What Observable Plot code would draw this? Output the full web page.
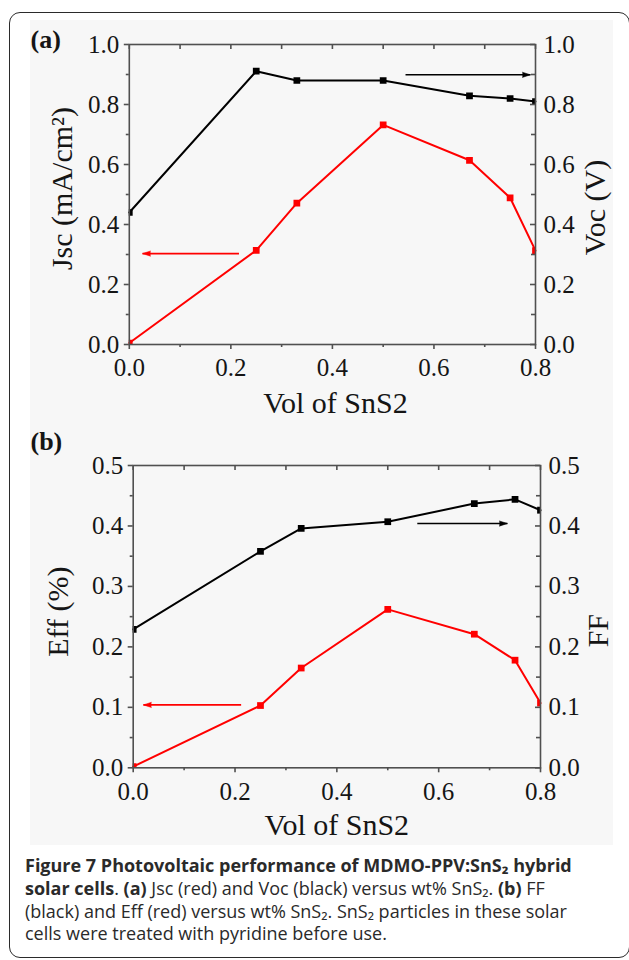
<!DOCTYPE html>
<html>
<head>
<meta charset="utf-8">
<script src="https://cdn.jsdelivr.net/npm/d3@7"></script>
<script src="https://cdn.jsdelivr.net/npm/@observablehq/plot@0.6"></script>
<style>
  html, body { margin: 0; padding: 0; background: #fff; }
  #page { position: relative; width: 629px; height: 960px; overflow: hidden; background: #fff; }
  #box { position: absolute; left: 9px; top: 12px; width: 620.5px; height: 946px; box-sizing: border-box;
         border: 1.6px solid #2b2b2b; border-radius: 11px; }
  #bg { position: absolute; left: 30px; top: 20px; width: 583px; height: 825px; background: #f7f7f7; }
  .panel { position: absolute; left: 0; }
  #cap { position: absolute; left: 25px; top: 854px; font-family: 'Open Sans', 'Noto Sans', sans-serif; font-size: 18px;
         line-height: 22.8px; color: #2a2a2a; white-space: nowrap; }
  #cap b { font-weight: 700; }
</style>
</head>
<body>
<div id="page">
  <div id="bg"></div>
  <div id="box"></div>
  <div id="pa" class="panel" style="top:0px"></div>
  <div id="pb" class="panel" style="top:420px"></div>
  <div id="cap">
    <div><b>Figure 7 Photovoltaic performance of MDMO-PPV:SnS₂ hybrid</b></div>
    <div><b>solar cells</b>. <b>(a)</b> Jsc (red) and Voc (black) versus wt% SnS₂. <b>(b)</b> FF</div>
    <div>(black) and Eff (red) versus wt% SnS₂. SnS₂ particles in these solar</div>
    <div>cells were treated with pyridine before use.</div>
  </div>
</div>
<script>
// ---- data ----
const volSnS2 = [0, 0.25, 0.33, 0.5, 0.67, 0.75, 0.8];
const jsc = [0.005, 0.314, 0.471, 0.732, 0.614, 0.489, 0.313];   // red, panel (a)
const voc = [0.44, 0.911, 0.88, 0.88, 0.829, 0.82, 0.81];        // black, panel (a)
const eff = [0.002, 0.103, 0.165, 0.262, 0.221, 0.178, 0.107];   // red, panel (b)
const ff  = [0.229, 0.358, 0.396, 0.407, 0.437, 0.444, 0.426];   // black, panel (b)

const xMajorTicks = [0, 0.2, 0.4, 0.6, 0.8];
const xMinorTicks = [0.1, 0.3, 0.5, 0.7];
const yMajorTicksA = [0, 0.2, 0.4, 0.6, 0.8, 1.0];
const yMinorTicksA = [0.1, 0.3, 0.5, 0.7, 0.9];
const yMajorTicksB = [0, 0.1, 0.2, 0.3, 0.4, 0.5];
const yMinorTicksB = [0.05, 0.15, 0.25, 0.35, 0.45];

// arrows: from x1 to x2 at height y
const arrowsA = [
  {x1: 0.216, x2: 0.026, y: 0.303, c: "red"},
  {x1: 0.544, x2: 0.79, y: 0.899, c: "black"}
];
const arrowsB = [
  {x1: 0.212, x2: 0.02, y: 0.104, c: "red"},
  {x1: 0.558, x2: 0.735, y: 0.404, c: "black"}
];

const labelsA = {tag: "(a)", left: "Jsc (mA/cm²)", right: "Voc (V)", bottom: "Vol of SnS2"};
const labelsB = {tag: "(b)", left: "Eff (%)", right: "FF", bottom: "Vol of SnS2"};

// ---- drawing ----
const RED = "#ff0000", BLACK = "#000000", AXIS = "#505050", TXT = "#151515";
const W = 629, H = 420;
const fmt = d3.format(".1f");
const serif = "'Liberation Serif', 'Times New Roman', serif";
const TICKFS = 25;

function makePanel(cfg) {
  const innerW = W - cfg.ml - cfg.mr;
  const innerH = H - cfg.mt - cfg.mb;
  const red = volSnS2.map((x, i) => ({x, y: cfg.red[i]}));
  const black = volSnS2.map((x, i) => ({x, y: cfg.black[i]}));
  const xAll = xMajorTicks.concat(xMinorTicks);
  const colour = d => d.c === "red" ? RED : BLACK;
  return Plot.plot({
    width: W, height: H,
    marginLeft: cfg.ml, marginRight: cfg.mr, marginTop: cfg.mt, marginBottom: cfg.mb,
    x: {domain: [0, 0.8], label: null},
    y: {domain: cfg.yDomain, label: null},
    style: {background: "transparent", fontFamily: serif, fontSize: TICKFS + "px", color: TXT, overflow: "visible"},
    marks: [
      // series
      Plot.line(black, {x: "x", y: "y", stroke: BLACK, strokeWidth: 2}),
      Plot.line(red, {x: "x", y: "y", stroke: RED, strokeWidth: 2}),
      Plot.dot(black, {x: "x", y: "y", symbol: "square", r: 3.8, fill: BLACK, stroke: "none", clip: true}),
      Plot.dot(red, {x: "x", y: "y", symbol: "square", r: 3.8, fill: RED, stroke: "none", clip: true}),
      // arrows
      Plot.link(cfg.arrows, {x1: "x1", x2: "x2", y1: "y", y2: "y", stroke: colour, strokeWidth: 1.6}),
      Plot.vector(cfg.arrows, {x: "x2", y: "y", rotate: d => d.x2 > d.x1 ? 90 : -90, length: 8, r: 2.6,
        shape: "spike", anchor: "end", fill: colour, stroke: colour, strokeWidth: 0.5}),
      // frame
      Plot.frame({stroke: AXIS, strokeWidth: 1.6}),
      // bottom axis (outward ticks)
      Plot.axisX(xMajorTicks, {anchor: "bottom", tickSize: 5, tickPadding: 9, tickFormat: fmt,
        stroke: AXIS, strokeWidth: 1.6, fill: TXT, fontSize: TICKFS, label: null}),
      Plot.axisX(xMinorTicks, {anchor: "bottom", tickSize: 3, tickFormat: () => "",
        stroke: AXIS, strokeWidth: 1.6, label: null}),
      // top ticks (pointing down)
      Plot.gridX(xAll, {stroke: AXIS, strokeOpacity: 1, strokeWidth: 1.6, insetBottom: innerH - 5}),
      // left axis (outward ticks)
      Plot.axisY(cfg.yMajor, {anchor: "left", tickSize: 5, tickPadding: 5, tickFormat: fmt,
        stroke: AXIS, strokeWidth: 1.6, fill: TXT, fontSize: TICKFS, label: null}),
      Plot.axisY(cfg.yMinor, {anchor: "left", tickSize: 3, tickFormat: () => "",
        stroke: AXIS, strokeWidth: 1.6, label: null}),
      // right axis: labels outside, ticks inward
      Plot.axisY(cfg.yMajor, {anchor: "right", tickSize: 0, tickPadding: 8, tickFormat: fmt,
        fill: TXT, fontSize: TICKFS, label: null}),
      Plot.gridY(cfg.yMajor, {stroke: AXIS, strokeOpacity: 1, strokeWidth: 1.6, insetLeft: innerW - 5}),
      Plot.gridY(cfg.yMinor, {stroke: AXIS, strokeOpacity: 1, strokeWidth: 1.6, insetLeft: innerW - 4}),
      // titles
      Plot.text([cfg.labels.left], {frameAnchor: "left", rotate: -90, dx: cfg.leftDx, dy: cfg.leftDy,
        fontSize: 30, fill: TXT, fontFamily: serif, textAnchor: "middle", lineAnchor: "middle"}),
      Plot.text([cfg.labels.right], {frameAnchor: "right", rotate: -90, dx: cfg.rightDx, dy: cfg.rightDy,
        fontSize: 30, fill: TXT, fontFamily: serif, textAnchor: "middle", lineAnchor: "middle"}),
      Plot.text([cfg.labels.bottom], {frameAnchor: "bottom", dx: cfg.botDx, dy: cfg.botDy,
        fontSize: 30, fill: TXT, fontFamily: serif, textAnchor: "middle", lineAnchor: "middle"}),
      Plot.text([cfg.labels.tag], {frameAnchor: "top-left", dx: cfg.tagDx, dy: cfg.tagDy,
        fontSize: 26, fontWeight: "bold", fill: TXT, fontFamily: serif, textAnchor: "start", lineAnchor: "middle"})
    ]
  });
}

document.getElementById("pa").append(makePanel({
  ml: 128.8, mr: 94, mt: 44, mb: 76, yDomain: [0, 1],
  red: jsc, black: voc, yMajor: yMajorTicksA, yMinor: yMinorTicksA, arrows: arrowsA, labels: labelsA,
  leftDx: -66.8, leftDy: -6, rightDx: 60, rightDy: 13, botDx: 3, botDy: 59, tagDx: -98.8, tagDy: -5
}));
document.getElementById("pb").append(makePanel({
  ml: 132.7, mr: 89, mt: 45, mb: 72.7, yDomain: [0, 0.5],
  red: eff, black: ff, yMajor: yMajorTicksB, yMinor: yMinorTicksB, arrows: arrowsB, labels: labelsB,
  leftDx: -74.7, leftDy: -5, rightDx: 58, rightDy: 14, botDx: 0, botDy: 58, tagDx: -102.7, tagDy: -24
}));
</script>
</body>
</html>
